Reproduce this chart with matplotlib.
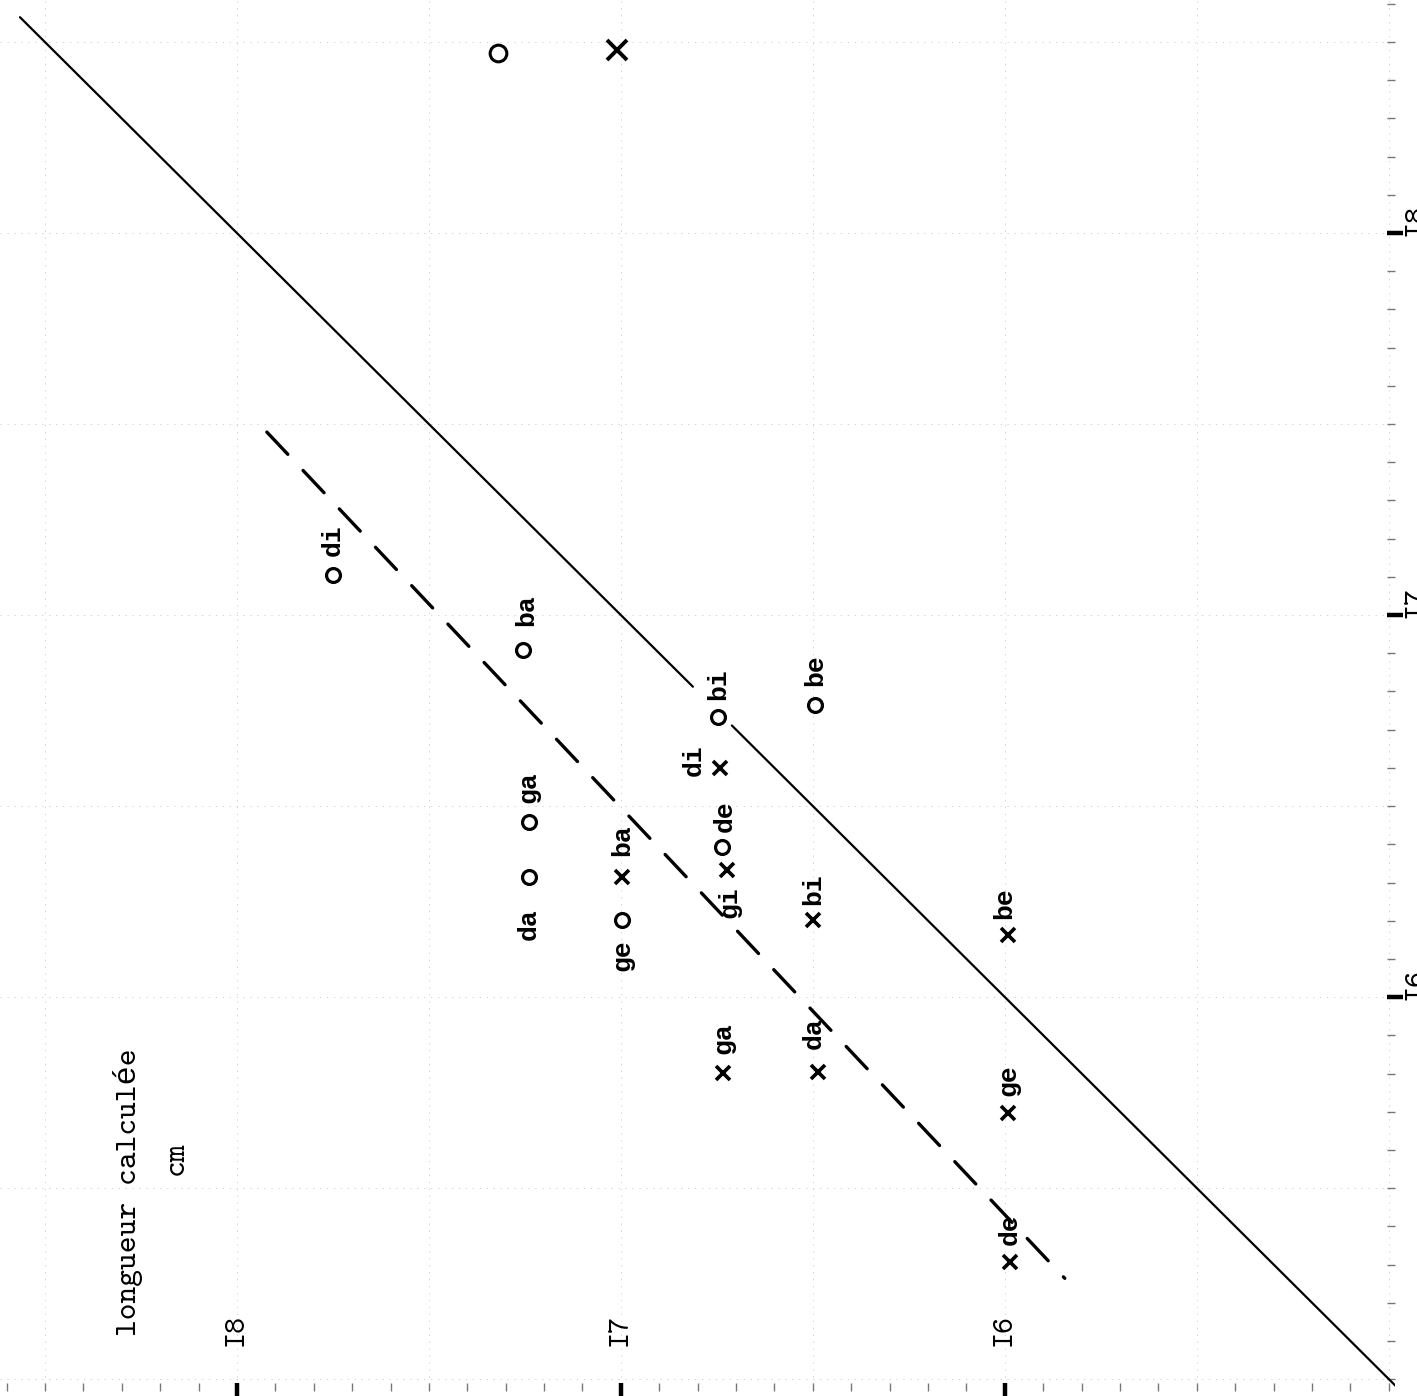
import matplotlib
matplotlib.use("Agg")
import matplotlib.pyplot as plt
import numpy as np

plt.rcParams['lines.scale_dashes'] = False
FONT = ['Liberation Mono', 'DejaVu Sans Mono']
TYPE = ['cmtt10', 'Liberation Mono', 'DejaVu Sans Mono']

# ---------------- data ----------------
# horizontal axis of the (rotated) sheet: longueur calculée (cm)
# vertical axis of the sheet: longueur observée (cm)
labels_o = ['di', 'ba', 'bi', 'be', 'ga', 'da', 'ge', 'de']
calc_o = [17.750, 17.255, 16.747, 16.495, 17.240, 17.240, 16.997, 16.737]
obs_o = [17.105, 16.908, 16.733, 16.764, 16.458, 16.314, 16.202, 16.393]

labels_x = ['di', 'gi', 'ba', 'bi', 'be', 'ga', 'da', 'ge', 'de']
calc_x = [16.742, 16.724, 16.997, 16.500, 15.992, 16.734, 16.487, 15.992, 15.987]
obs_x = [16.599, 16.332, 16.314, 16.202, 16.162, 15.801, 15.804, 15.696, 15.306]

# label offsets (points) relative to each marker
off_o = [(0, 25), (2, 29), (0, 24), (0, 25), (0, 25), (0, -34), (0, -25), (2, 22)]
off_x = [(-19, 6), (2, -23), (0, 27), (0, 22), (-3, 23), (0, 25), (-3, 28), (0, 24), (0, 24)]

# diagonal y = x (interrupted around the label "bi")
diag_seg1 = [18.565, 16.8125]
diag_seg2 = [16.711, 14.98]

# fitted (dashed) line endpoints
fit_calc = [17.922, 15.844]
fit_obs = [17.479, 15.264]

major_ticks = [16, 17, 18]
tick_labels = ['I6', 'I7', 'I8']
minor_ticks = np.round(np.arange(15.0, 18.61, 0.1), 2)

# ---------------- figure ----------------
W, H = 1417, 1396
fig = plt.figure(figsize=(W / 100, H / 100), dpi=100)
ax_w, ax_h = 1395, 1391
ax = fig.add_axes([0, 1 - ax_h / H, ax_w / W, ax_h / H])
ax.set_xlim(18.617, 14.984)
ax.set_ylim(14.969, 18.610)
for s in ax.spines.values():
    s.set_visible(False)

# faint graph-paper grid
for v in np.arange(15.0, 18.6, 0.5):
    ax.axvline(v, color='#d4d4d4', lw=0.7, ls=(0, (1, 4)), zorder=0)
    ax.axhline(v, color='#d4d4d4', lw=0.7, ls=(0, (1, 4)), zorder=0)

# diagonal
ax.plot(diag_seg1, diag_seg1, color='black', lw=1.6, solid_capstyle='round')
ax.plot(diag_seg2, diag_seg2, color='black', lw=1.6, solid_capstyle='round')

# dashed fitted line
ax.plot(fit_calc, fit_obs, color='black', lw=2.4, dashes=(22, 16),
        dash_capstyle='round')

# points
ax.plot(calc_o, obs_o, ls='none', marker='o', ms=10, mfc='none',
        mec='black', mew=2.3)
ax.plot(calc_x, obs_x, ls='none', marker='x', ms=9.5, mec='black', mew=2.6)

for lab, cx, cy, off in zip(labels_o, calc_o, obs_o, off_o):
    ax.annotate(lab, (cx, cy), xytext=off, textcoords='offset points',
                rotation=90, ha='center', va='center', fontsize=19,
                fontweight='bold', family=FONT)
for lab, cx, cy, off in zip(labels_x, calc_x, obs_x, off_x):
    ax.annotate(lab, (cx, cy), xytext=off, textcoords='offset points',
                rotation=90, ha='center', va='center', fontsize=19,
                fontweight='bold', family=FONT)

# legend symbols at the top
ax.plot([0.357], [0.962], transform=ax.transAxes, marker='o', ms=12,
        mfc='none', mec='black', mew=2.2, clip_on=False)
ax.plot([0.442], [0.964], transform=ax.transAxes, marker='x', ms=14,
        mec='black', mew=2.8, clip_on=False)

# ticks
ax.set_xticks(major_ticks)
ax.set_xticks(minor_ticks, minor=True)
ax.set_yticks(major_ticks)
ax.set_yticks(minor_ticks, minor=True)
ax.yaxis.set_ticks_position('right')
ax.tick_params(axis='both', which='major', direction='inout', length=12,
               width=3.2, color='black', labelbottom=False, labelright=False,
               labelleft=False, labeltop=False)
ax.tick_params(axis='both', which='minor', direction='in', length=6,
               width=1.0, color='#777777')

# tick labels (rotated, typewriter style)
for v, t in zip(major_ticks, tick_labels):
    ax.text(v, 15.128, t, rotation=90, ha='center', va='center',
            fontsize=22, family=TYPE)
    ax.text(1.006, v + 0.035, t, transform=ax.get_yaxis_transform(),
            rotation=90, ha='left', va='center', fontsize=22, family=TYPE,
            clip_on=False)

# axis title
ax.text(18.284, 15.489, 'longueur calculée', rotation=90, ha='center',
        va='center', fontsize=23, family=TYPE)
ax.text(18.156, 15.579, 'cm', rotation=90, ha='center', va='center',
        fontsize=23, family=TYPE)

fig.savefig('out.png', dpi=100, facecolor='white')
